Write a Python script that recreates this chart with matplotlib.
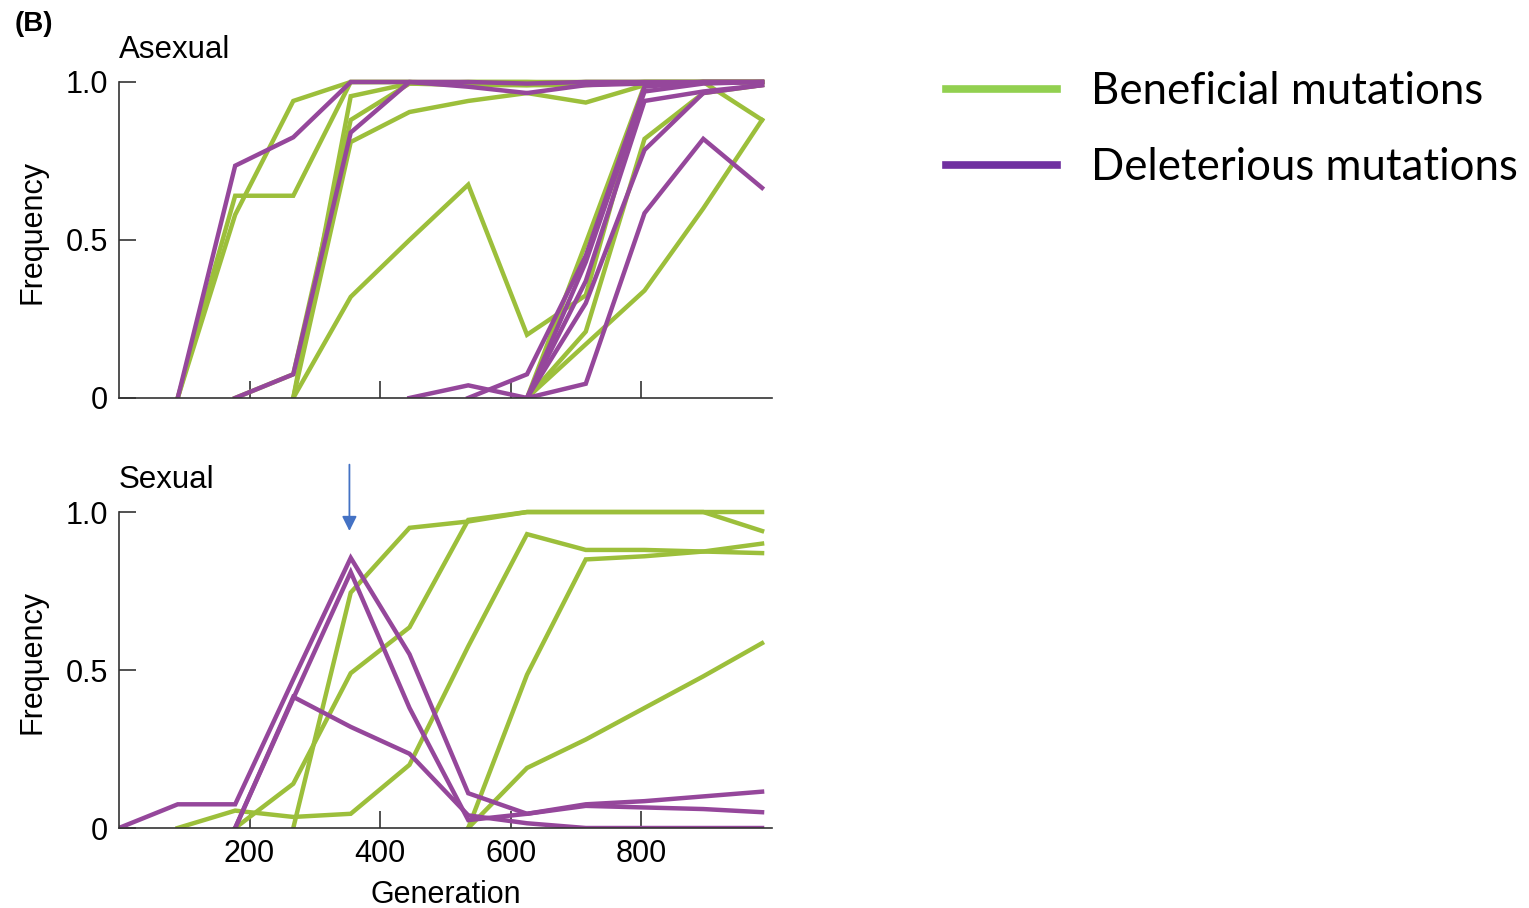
import numpy as np
import matplotlib
matplotlib.use("Agg")
import matplotlib.pyplot as plt
from matplotlib.lines import Line2D

nan = np.nan

# sampling generations
gen = [0, 90, 178, 267, 355, 445, 535, 625, 715, 805, 895, 985]

# asexual population: beneficial mutations
asex_ben = [
    [nan, 0, 0.64, 0.64, 1.0, 1.0, 0.995, 0.99, 0.99, 1.0, 1.0, 1.0],
    [nan, 0, 0.58, 0.94, 1.0, 1.0, 1.0, 1.0, 1.0, 1.0, 1.0, 1.0],
    [nan, nan, nan, 0, 0.955, 0.995, 1.0, 1.0, 0.995, 1.0, 1.0, 1.0],
    [nan, nan, 0, 0.075, 0.88, 0.995, 0.99, 0.99, 1.0, 1.0, 1.0, 1.0],
    [nan, nan, nan, 0, 0.81, 0.905, 0.94, 0.965, 0.935, 0.99, 1.0, 1.0],
    [nan, nan, nan, 0, 0.32, 0.5, 0.675, 0.2, 0.325, 0.99, 1.0, 1.0],
    [nan, nan, nan, nan, nan, nan, nan, 0, 0.17, 0.34, 0.6, 0.88],
    [nan, nan, nan, nan, nan, nan, nan, 0, 0.21, 0.82, 0.965, 0.99],
    [nan, nan, nan, nan, nan, nan, nan, 0, 0.49, 0.99, 1.0, 0.88],
]

# asexual population: deleterious mutations
asex_del = [
    [nan, 0, 0.735, 0.825, 1.0, 1.0, 0.985, 0.965, 0.99, 0.995, 1.0, 1.0],
    [nan, nan, 0, 0.075, 0.84, 1.0, 1.0, 0.995, 1.0, 1.0, 1.0, 1.0],
    [nan, nan, nan, nan, nan, 0, 0.04, 0.0, 0.37, 0.94, 0.97, 0.99],
    [nan, nan, nan, nan, nan, nan, 0, 0.075, 0.45, 0.985, 1.0, 1.0],
    [nan, nan, nan, nan, nan, nan, nan, 0, 0.43, 0.97, 0.995, 1.0],
    [nan, nan, nan, nan, nan, nan, nan, 0, 0.30, 0.785, 0.965, 0.99],
    [nan, nan, nan, nan, nan, nan, nan, 0, 0.045, 0.585, 0.82, 0.665],
]

# sexual population: beneficial mutations
sex_ben = [
    [nan, 0, 0.055, 0.035, 0.045, 0.2, 0.575, 0.93, 0.88, 0.88, 0.875, 0.87],
    [nan, nan, 0, 0.14, 0.49, 0.635, 0.975, 1.0, 1.0, 1.0, 1.0, 0.94],
    [nan, nan, nan, 0, 0.745, 0.95, 0.97, 1.0, 1.0, 1.0, 1.0, 1.0],
    [nan, nan, nan, nan, nan, nan, 0, 0.485, 0.85, 0.86, 0.875, 0.9],
    [nan, nan, nan, nan, nan, nan, 0, 0.19, 0.28, 0.38, 0.48, 0.585],
]

# sexual population: deleterious mutations
sex_del = [
    [0, 0.075, 0.075, 0.47, 0.855, 0.55, 0.11, 0.045, 0.075, 0.085, 0.1, 0.115],
    [nan, nan, 0, 0.41, 0.81, 0.38, 0.025, 0.045, 0.07, 0.065, 0.06, 0.05],
    [nan, nan, 0, 0.415, 0.32, 0.235, 0.04, 0.015, 0.0, 0.0, 0.0, 0.0],
]

xticks = [200, 400, 600, 800]
yticks = [0, 0.5, 1.0]
yticklabels = ["0", "0.5", "1.0"]
legend_labels = ["Beneficial mutations", "Deleterious mutations"]

green = "#9cbf3b"
purple = "#95479b"

plt.rcParams["font.family"] = ["Liberation Sans", "DejaVu Sans"]

fig = plt.figure(figsize=(15.29, 9.08), dpi=100)
ax_top = fig.add_axes([0.0778, 0.5617, 0.427, 0.3654])
ax_bot = fig.add_axes([0.0778, 0.0881, 0.427, 0.3654])


def draw_panel(ax, ben, dele, title, show_xlabels):
    for y in ben:
        ax.plot(gen, y, color=green, lw=3.2, solid_joinstyle="miter", zorder=2)
    for y in dele:
        ax.plot(gen, y, color=purple, lw=3.2, solid_joinstyle="miter", zorder=2)
    ax.set_xlim(0, 1000)
    ax.set_ylim(0, 1.05)
    ax.spines["top"].set_visible(False)
    ax.spines["right"].set_visible(False)
    ax.spines["left"].set_bounds(0, 1.0)
    for s in ["left", "bottom"]:
        ax.spines[s].set_color("#333333")
        ax.spines[s].set_linewidth(1.2)
        ax.spines[s].set_zorder(3)
    ax.set_xticks(xticks)
    ax.set_yticks(yticks)
    ax.set_yticklabels(yticklabels)
    ax.tick_params(direction="in", length=12, width=1.2, color="#333333",
                   labelsize=22, pad=8)
    if not show_xlabels:
        ax.tick_params(axis="x", labelbottom=False)
    else:
        ax.set_xlabel("Generation", fontsize=22, labelpad=8)
    ax.set_ylabel("Frequency", fontsize=22, labelpad=13)
    ax.text(0, 1.10, title, fontsize=22.5, ha="left", va="center")


draw_panel(ax_top, asex_ben, asex_del, "Asexual", False)
draw_panel(ax_bot, sex_ben, sex_del, "Sexual", True)

# arrow marking the peak of the deleterious hitchhikers
ax_bot.annotate("", xy=(353, 0.94), xytext=(353, 1.15),
                arrowprops=dict(arrowstyle="-|>", color="#4472c4", lw=1.3,
                                mutation_scale=22, shrinkA=0, shrinkB=0),
                annotation_clip=False)

fig.text(0.0098, 0.9736, "(B)", fontsize=20, fontweight="bold",
         ha="left", va="center")

handles = [Line2D([], [], color="#92d050", lw=5.5),
           Line2D([], [], color="#7030a0", lw=5.5)]
fig.legend(handles, legend_labels, loc="upper left",
           bbox_to_anchor=(0.607, 0.941), frameon=False,
           prop={"family": ["Lato", "DejaVu Sans"], "size": 31.5},
           handlelength=2.55, handletextpad=0.78, labelspacing=0.8,
           borderaxespad=0)

fig.savefig("out.png", dpi=100)
